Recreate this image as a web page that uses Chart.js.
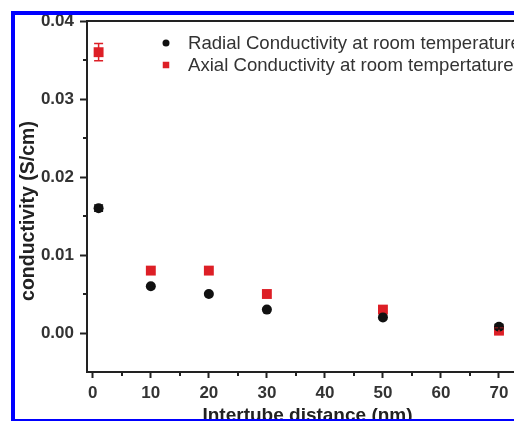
<!DOCTYPE html>
<html>
<head>
<meta charset="utf-8">
<script src="https://cdn.jsdelivr.net/npm/chart.js@4.4.1/dist/chart.umd.min.js"></script>
<style>
    html, body { margin: 0; padding: 0; background: #fff; overflow: hidden; width: 514px; height: 421px; }
    #wrap { position: relative; width: 514px; height: 421px; overflow: hidden; }
    #chart { position: absolute; left: 0; top: 0; }
    #frame { position: absolute; left: 11px; top: 11px; width: 600px; height: 412px; box-sizing: border-box; border: 4px solid #0000ff; pointer-events: none; }
</style>
</head>
<body>
<div id="wrap">
    <canvas id="chart" width="540" height="421"></canvas>
    <div id="frame"></div>
</div>
<script>
// Intertube distance (nm)
const distances = [1, 10, 20, 30, 50, 70];
// conductivity (S/cm)
const radial = [0.016, 0.006, 0.005, 0.003, 0.002, 0.0008];
const axial = [0.036, 0.008, 0.008, 0.005, 0.003, 0.0003];
const radialErr = [0.0004, 0, 0, 0, 0, 0.0003];
const axialErr = [0.0011, 0, 0, 0, 0, 0.0003];

const xTicks = [0, 10, 20, 30, 40, 50, 60, 70];
const xMinor = [5, 15, 25, 35, 45, 55, 65, 75];
const yTicks = [0, 0.01, 0.02, 0.03, 0.04];
const yMinor = [0.005, 0.015, 0.025, 0.035];

const axisColor = '#222';
const labelColor = '#333';
const fontFamily = '"Liberation Sans", Arial, sans-serif';

// minor ticks plus top/right frame lines
const minorTicks = {
    id: 'minorTicks',
    afterDraw(chart) {
        const ctx = chart.ctx;
        const x = chart.scales.x, y = chart.scales.y, area = chart.chartArea;
        ctx.save();
        ctx.strokeStyle = axisColor;
        ctx.lineWidth = 2;
        ctx.beginPath();
        xMinor.forEach(v => {
            const px = Math.round(x.getPixelForValue(v));
            ctx.moveTo(px, area.bottom);
            ctx.lineTo(px, area.bottom + 4);
        });
        yMinor.forEach(v => {
            const py = Math.round(y.getPixelForValue(v));
            ctx.moveTo(area.left, py);
            ctx.lineTo(area.left - 4, py);
        });
        ctx.moveTo(area.left, area.top);
        ctx.lineTo(area.right, area.top);
        ctx.lineTo(area.right, area.bottom);
        ctx.stroke();
        ctx.restore();
    }
};

const errorBars = {
    id: 'errorBars',
    afterDatasetsDraw(chart) {
        const ctx = chart.ctx;
        const x = chart.scales.x, y = chart.scales.y;
        ctx.save();
        ctx.lineWidth = 1.5;
        // same paint order as the datasets (last one first)
        for (let i = chart.data.datasets.length - 1; i >= 0; i--) {
            const ds = chart.data.datasets[i];
            ctx.strokeStyle = ds.borderColor;
            ds.errors.forEach((e, k) => {
                if (!e) return;
                const px = x.getPixelForValue(ds.data[k].x);
                const top = y.getPixelForValue(ds.data[k].y + e);
                const bot = y.getPixelForValue(ds.data[k].y - e);
                ctx.beginPath();
                ctx.moveTo(px, top); ctx.lineTo(px, bot);
                ctx.moveTo(px - 4.5, top); ctx.lineTo(px + 4.5, top);
                ctx.moveTo(px - 4.5, bot); ctx.lineTo(px + 4.5, bot);
                ctx.stroke();
            });
        }
        ctx.restore();
    }
};

// legend inside the plot, plus the rotated y title
const legendAndTitle = {
    id: 'legendAndTitle',
    afterDraw(chart) {
        const ctx = chart.ctx, area = chart.chartArea;
        ctx.save();
        chart.data.datasets.forEach((ds, i) => {
            const cy = area.top + 22 + i * 22;
            ctx.fillStyle = ds.backgroundColor;
            Chart.helpers.drawPoint(ctx, { pointStyle: ds.pointStyle, radius: ds.legendRadius, rotation: 0, borderWidth: 0 }, area.left + 79, cy);
            ctx.font = '18.6px ' + fontFamily;
            ctx.fillStyle = labelColor;
            ctx.textBaseline = 'middle';
            ctx.textAlign = 'left';
            ctx.fillText(ds.label, area.left + 101, cy + 1);
        });

        ctx.translate(area.left - 53, area.top + 190);
        ctx.rotate(-Math.PI / 2);
        ctx.font = 'bold 19.5px ' + fontFamily;
        ctx.fillStyle = axisColor;
        ctx.textAlign = 'center';
        ctx.textBaseline = 'alphabetic';
        ctx.fillText('conductivity (S/cm)', 0, 0);
        ctx.restore();
    }
};

const ctx = document.getElementById('chart').getContext('2d');
const chart = new Chart(ctx, {
    type: 'scatter',
    data: {
        datasets: [{
            label: 'Radial Conductivity at room temperature',
            data: distances.map((d, i) => ({ x: d, y: radial[i] })),
            errors: radialErr,
            pointStyle: 'circle',
            pointRadius: 5,
            legendRadius: 3.5,
            backgroundColor: '#111',
            borderColor: '#111',
            borderWidth: 0
        }, {
            label: 'Axial Conductivity at room tempertature',
            data: distances.map((d, i) => ({ x: d, y: axial[i] })),
            errors: axialErr,
            pointStyle: 'rect',
            pointRadius: 7,
            legendRadius: 4.6,
            backgroundColor: '#dd1f26',
            borderColor: '#dd1f26',
            borderWidth: 0
        }]
    },
    options: {
        responsive: false,
        devicePixelRatio: 1,
        animation: false,
        layout: { padding: { top: 21, right: 12, left: 0, bottom: 0 } },
        plugins: {
            legend: { display: false },
            tooltip: { enabled: false }
        },
        scales: {
            x: {
                type: 'linear',
                min: -1,
                max: 75,
                afterBuildTicks: scale => { scale.ticks = xTicks.map(v => ({ value: v })); },
                afterFit: scale => { scale.height = 49; },
                grid: { drawOnChartArea: false, drawTicks: true, tickLength: 6, tickColor: axisColor, tickWidth: 2 },
                border: { display: true, color: axisColor, width: 2 },
                ticks: {
                    padding: 5,
                    color: labelColor,
                    font: { family: fontFamily, size: 17, weight: 'bold' },
                    callback: v => v
                },
                title: {
                    display: true,
                    text: 'Intertube distance (nm)',
                    color: axisColor,
                    font: { family: fontFamily, size: 19, weight: 'bold', lineHeight: 1 },
                    padding: { top: 0, bottom: -4 }
                }
            },
            y: {
                type: 'linear',
                min: -0.005,
                max: 0.04,
                afterBuildTicks: scale => { scale.ticks = yTicks.map(v => ({ value: v })); },
                afterFit: scale => { scale.width = 87; },
                grid: { drawOnChartArea: false, drawTicks: true, tickLength: 7, tickColor: axisColor, tickWidth: 2 },
                border: { display: true, color: axisColor, width: 2 },
                ticks: {
                    padding: 6,
                    color: labelColor,
                    font: { family: fontFamily, size: 17, weight: 'bold' },
                    callback: v => v.toFixed(2)
                }
            }
        }
    },
    plugins: [minorTicks, errorBars, legendAndTitle]
});
</script>
</body>
</html>
